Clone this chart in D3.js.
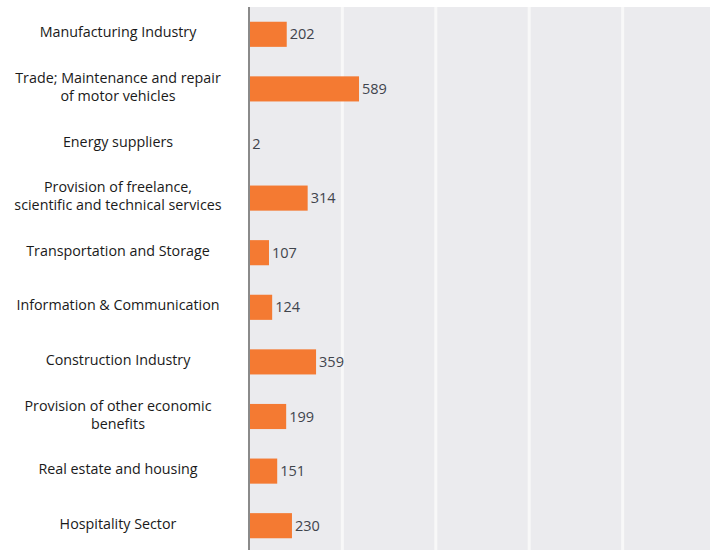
<!DOCTYPE html>
<html>
<head>
<meta charset="utf-8">
<script src="https://cdn.jsdelivr.net/npm/d3@7"></script>
<style>
  html, body { margin: 0; padding: 0; background: #ffffff; }
  svg { display: block; }
</style>
</head>
<body>
<svg id="chart" width="710" height="550"></svg>
<script>
// Number of businesses per economic sector
const categories = [
  ["Manufacturing Industry"],
  ["Trade; Maintenance and repair", "of motor vehicles"],
  ["Energy suppliers"],
  ["Provision of freelance,", "scientific and technical services"],
  ["Transportation and Storage"],
  ["Information & Communication"],
  ["Construction Industry"],
  ["Provision of other economic", "benefits"],
  ["Real estate and housing"],
  ["Hospitality Sector"]
];
const values = [202, 589, 2, 314, 107, 124, 359, 199, 151, 230];
const xTicks = [0, 500, 1000, 1500, 2000, 2500];

const W = 710, H = 550;
const svg = d3.select("#chart");
const font = "'Open Sans', Lato, sans-serif";

const x = d3.scaleLinear().domain([0, 2500]).range([249, 716]);
const y = d3.scaleBand()
  .domain(d3.range(categories.length))
  .range([7, 553])
  .paddingInner(0.54)
  .paddingOuter(0.27);

// plot background
svg.append("rect")
  .attr("x", x(0)).attr("y", 7)
  .attr("width", W - x(0)).attr("height", H - 7)
  .attr("fill", "#ebebee");

// vertical gridlines
svg.append("g")
  .selectAll("line")
  .data(xTicks.filter(d => d > 0))
  .join("line")
  .attr("x1", d => x(d)).attr("x2", d => x(d))
  .attr("y1", 7).attr("y2", H)
  .attr("stroke", "#f8f8f8")
  .attr("stroke-width", 3);

// bars
svg.append("g")
  .selectAll("rect")
  .data(values)
  .join("rect")
  .attr("x", x(0))
  .attr("y", (d, i) => y(i))
  .attr("width", d => Math.max(0, x(d) - x(0)))
  .attr("height", y.bandwidth())
  .attr("fill", "#f47a32");

// value labels
svg.append("g")
  .selectAll("text")
  .data(values)
  .join("text")
  .attr("x", d => x(d) + 3)
  .attr("y", (d, i) => y(i) + y.bandwidth() / 2)
  .attr("dy", "0.35em")
  .attr("font-family", font)
  .attr("font-size", 14.5)
  .attr("fill", "#3f444c")
  .text(d => d);

// category labels
const labels = svg.append("g")
  .selectAll("text")
  .data(categories)
  .join("text")
  .attr("text-anchor", "middle")
  .attr("font-family", font)
  .attr("font-size", 14.3)
  .attr("fill", "#1a1a1a")
  .attr("x", 118)
  .attr("y", (d, i) => y(i) + y.bandwidth() / 2 - (d.length - 1) * 9 - 2);
labels.selectAll("tspan")
  .data(d => d)
  .join("tspan")
  .attr("x", 118)
  .attr("dy", (d, j) => j === 0 ? "0.35em" : 18)
  .text(d => d);

// vertical axis line
svg.append("line")
  .attr("x1", x(0)).attr("x2", x(0))
  .attr("y1", 7).attr("y2", H)
  .attr("stroke", "#8a8a8a")
  .attr("stroke-width", 2);
</script>
</body>
</html>
